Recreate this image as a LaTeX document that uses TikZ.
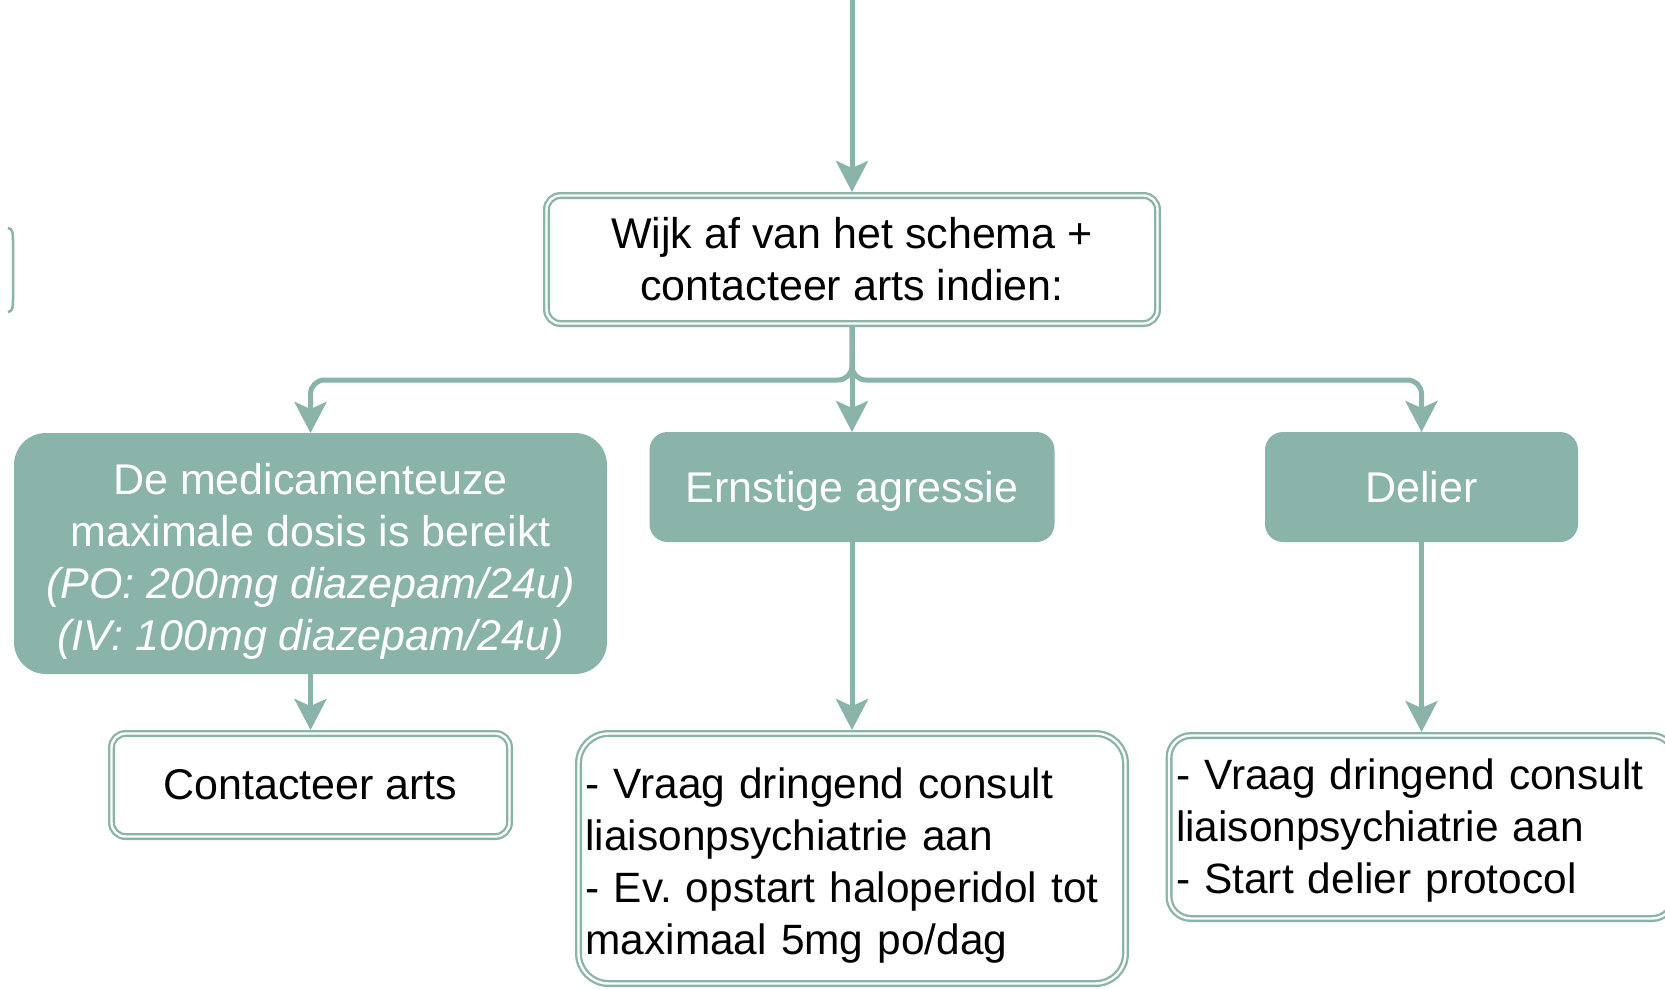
\documentclass[tikz,border=0pt]{standalone}
\usepackage{fontspec}
\setmainfont{Liberation Sans}
\usepackage{xcolor}
\usetikzlibrary{arrows.meta}
\definecolor{sage}{HTML}{8AB3AA}
\newcommand{\topgap}[1]{\rule{0pt}{#1}}
\frenchspacing

\begin{document}
\begin{tikzpicture}[x=1pt,y=-1pt]
        \tikzset{every node/.style={font=\fontsize{43}{52}\selectfont, align=center, inner sep=0pt},
            outline/.style={draw=sage, double=white, line width=2.3pt, double distance=2.4pt,
                rounded corners=14pt, outer sep=3.5pt},
            filled/.style={fill=sage, text=white, rounded corners=18pt, outer sep=0pt},
            listbox/.style={outline, align=left, inner xsep=7pt, font=\fontsize{42.4}{52}\selectfont},
            link/.style={draw=sage, line width=5pt, -{Stealth[length=31pt,width=32pt,inset=7pt]}}}
        \useasboundingbox (0,0) rectangle (1665,989);
        \clip (0,0) rectangle (1665,989);
        \coordinate (start) at (852,0);
        \coordinate (fork) at (852,380);
        \node[outline, minimum width=611pt, minimum height=128pt] (wijk) at (852,259.5)
            {Wijk af van het schema +\\contacteer arts indien:};
        \node[filled, rounded corners=32pt, minimum width=593pt, minimum height=241pt] (medic) at (310.5,553.5)
            {\topgap{46pt}De medicamenteuze\\maximale dosis is bereikt\\\textit{(PO: 200mg diazepam/24u)}\\\textit{(IV: 100mg diazepam/24u)}};
        \node[filled, minimum width=405pt, minimum height=110pt] (ernstig) at (852,487) {\topgap{39pt}Ernstige agressie};
        \node[filled, minimum width=313pt, minimum height=110pt] (delier) at (1421.5,487) {Delier};
        \node[outline, minimum width=398pt, minimum height=103pt] (contact) at (310.5,785) {Contacteer arts};
        \node[listbox, rounded corners=30pt, text width=533pt, minimum height=250pt] (consult) at (852,858.5)
            {\topgap{44pt}- Vraag dringend consult\\liaisonpsychiatrie aan\\- Ev. opstart haloperidol tot\\maximaal 5mg po/dag};
        \node[listbox, rounded corners=22pt, text width=491pt, minimum height=183pt] (protocol) at (1421.5,827)
            {\topgap{37pt}- Vraag dringend consult\\liaisonpsychiatrie aan\\- Start delier protocol};
        \draw[link] (start) -- (wijk);
        \draw[link] (wijk) -- (ernstig);
        \draw[link, rounded corners=14pt] (wijk.south) -- (fork) -| (medic.north);
        \draw[link, rounded corners=14pt] (wijk.south) -- (fork) -| (delier.north);
        \draw[link] (medic) -- (contact);
        \draw[link] (ernstig) -- (consult);
        \draw[link] (delier) -- (protocol);
        \draw[sage, line width=2.5pt] (8,228) to[out=0,in=90] (13,240) -- (13,300) to[out=-90,in=0] (8,312);
    \end{tikzpicture}
\end{document}
